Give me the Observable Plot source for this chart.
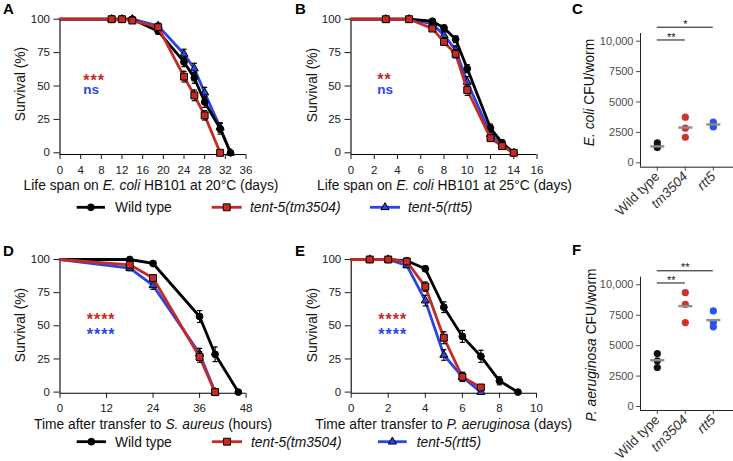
<!DOCTYPE html>
<html><head><meta charset="utf-8">
<script src="https://cdn.jsdelivr.net/npm/d3@7"></script>
<script src="https://cdn.jsdelivr.net/npm/@observablehq/plot@0.6"></script>
<style>
html,body{margin:0;padding:0;background:#fff;}
#chart{position:relative;width:733px;height:461px;overflow:hidden;font-family:"Liberation Sans",Arial,sans-serif;}
#chart svg{position:absolute;left:0;top:0;}
</style></head><body><div id="chart"></div>
<script>
// ---------- DATA ----------
// Panel A: life span on E. coli HB101 at 20°C (days)
const aWtDays = [0,10,12,14,19,24,26,28,31,33];
const aWtSurv = [100,100,100,100,91,68,56,38,18,0];
const aWtErr  = [0,0,0,0,2,3.5,4,4,4,0];
const aTmDays = [0,10,12,14,19,24,26,28,31];
const aTmSurv = [100,100,100,99,94,57,43,28,0];
const aTmErr  = [0,0.5,0.5,1,2,4,4,3.5,0];
const aRtDays = [0,10,12,14,19,24,26,28,31,33];
const aRtSurv = [100,100,100,100,95,74,63,45,19,0];
const aRtErr  = [0,0,0,0,2,3.5,4,4,3.5,0];
const aTicks  = [0,4,8,12,16,20,24,28,32,36];

// Panel B: life span on E. coli HB101 at 25°C (days)
const bDays   = [0,3,5,7,8,9,10,12,13,14];
const bWtSurv = [100,100,100,98.5,93.5,85,63,18.5,7.5,0];
const bWtErr  = [0,0,0,1,2,2.5,3,3,2,0];
const bTmSurv = [100,100,100,93,83,74,47,11,5,0];
const bTmErr  = [0,0,0,1.5,2.5,3,4,2.5,1.5,0];
const bRtSurv = [100,100,100,96.5,88,77,53,14,5.5,0];
const bRtErr  = [0,0,0,1,2.5,3,4,3,1.5,0];
const bTicks  = [0,2,4,6,8,10,12,14,16];

// Panel D: time after transfer to S. aureus (hours)
const dWtHours  = [0,18,24,36,40,46];
const dWtSurv   = [100,100,97,57,28.5,0];
const dWtErr    = [0,1,1,4.5,5.5,0];
const dMutHours = [0,18,24,36,40];
const dTmSurv   = [100,96,86,26.5,0];
const dTmErr    = [0,1.5,2.5,4,0];
const dRtSurv   = [100,93.5,80.5,29,0];
const dRtErr    = [0,2,3,4,0];
const dTicks    = [0,12,24,36,48];

// Panel E: time after transfer to P. aeruginosa (days)
const eWtDays  = [0,1,2,3,4,5,6,7,8,9];
const eWtSurv  = [100,100,100,99,93,64,42,27,8.5,0];
const eWtErr   = [0,0,0,1,2,4,4.5,4.5,3,0];
const eMutDays = [0,1,2,3,4,5,6,7];
const eTmSurv  = [100,100,100,98.5,79.5,41,11.5,3.5];
const eTmErr   = [0,0,0,1,3.5,4.5,3.5,2];
const eRtSurv  = [100,100,100,95.5,69,28,11.5,0];
const eRtErr   = [0,0,0,1.5,4,4,3,0];
const eTicks   = [0,2,4,6,8,10];

const survTicks = [0,25,50,75,100];

// Panels C and F: CFU per worm
const strains   = ["Wild type","tm3504","rtt5"];
const cfuTicks  = [0,2500,5000,7500,10000];
const cWt = [1250,1350,1650];
const cTm = [2100,2850,3750];
const cRt = [2950,3000,3350];
const cCenter = [1350,2900,3150];
const cBracketFrom  = [0,0];
const cBracketTo    = [1,2];
const cBracketLevel = [10100,11150];
const cBracketLabel = ["**","*"];

const fWt = [3200,3750,4350];
const fTm = [6900,8400,9350];
const fRt = [6550,6900,7850];
const fCenter = [3800,8250,7100];
const fBracketFrom  = [0,0];
const fBracketTo    = [1,2];
const fBracketLevel = [10150,11150];
const fBracketLabel = ["**","**"];

// significance labels (tm3504 vs WT, rtt5 vs WT)
const sigA = ["***","ns"];
const sigB = ["**","ns"];
const sigD = ["****","****"];
const sigE = ["****","****"];

// ---------- STYLE ----------
const WT = "#000000", TM = "#c62a22", RT = "#2a44e6";
const CWT = "#111111", CTM = "#d1302c", CRT = "#2d50f0";
const FONT = "'Liberation Sans', Arial, Helvetica, sans-serif";

const capSymbol = {draw(ctx, size){ const w = Math.sqrt(size/Math.PI); ctx.moveTo(-w,0); ctx.lineTo(w,0); }};

const chart = document.getElementById("chart");

function rows(t, s, e){ return t.map((d,i)=>({t:d, s:s[i], e:e[i]})); }

function seriesMarks(data, color, symbol, r){
  const eb = data.filter(d=>d.e>0);
  return [
    Plot.line(data, {x:"t", y:"s", stroke:color, strokeWidth:2.8, strokeLinejoin:"round"}),
    Plot.ruleX(eb, {x:"t", y1:d=>d.s-d.e, y2:d=>d.s+d.e, stroke:"#000", strokeWidth:1.2}),
    Plot.dot(eb, {x:"t", y:d=>d.s-d.e, symbol:capSymbol, r:2.6, fill:"none", stroke:"#000", strokeWidth:1.2}),
    Plot.dot(eb, {x:"t", y:d=>d.s+d.e, symbol:capSymbol, r:2.6, fill:"none", stroke:"#000", strokeWidth:1.2}),
    Plot.dot(data.filter(d=>d.t>0), {x:"t", y:"s", symbol, r, fill:color, stroke:"#000", strokeWidth:1})
  ];
}

function svgStyle(color, size){
  return `background:transparent;font-family:${FONT};font-size:${size}px;color:${color};position:absolute;left:0;top:0;overflow:visible;`;
}

function survivalPanel(cfg){
  const svg = Plot.plot({
    width:733, height:461,
    marginLeft:cfg.left, marginRight:733-cfg.right, marginTop:cfg.top, marginBottom:461-cfg.bottom,
    x:{domain:cfg.xDomain}, y:{domain:[cfg.yMin,100]},
    style: svgStyle("#1a1a1a", 11.5),
    marks:[
      Plot.ruleX([cfg.xDomain[0]], {stroke:"#000", strokeWidth:1.1}),
      Plot.ruleY([cfg.yMin], {stroke:"#000", strokeWidth:1.1}),
      Plot.axisY({ticks:survTicks, tickSize:6, tickPadding:4, label:null}),
      Plot.axisX({ticks:cfg.xTicks, tickSize:5, tickPadding:6, label:null}),
      ...seriesMarks(cfg.rt, RT, "triangle", 3),
      ...seriesMarks(cfg.wt, WT, "circle", 3.4),
      ...seriesMarks(cfg.tm, TM, "square", 3.9)
    ]
  });
  chart.appendChild(svg);
}

function cfuPanel(cfg){
  const groups = [cfg.wt, cfg.tm, cfg.rt];
  const cols = [CWT, CTM, CRT];
  const brackets = cfg.from.map((f,i)=>({from:f, to:cfg.to[i], y:cfg.level[i], label:cfg.label[i]}));
  const centers = cfg.center.map((v,i)=>({i, v}));
  const svg = Plot.plot({
    width:733, height:461,
    marginLeft:cfg.left, marginRight:0, marginTop:cfg.top, marginBottom:461-cfg.bottom,
    x:{domain:[-0.6,2.72]}, y:{domain:cfg.yDomain},
    style: svgStyle("#4d4d4d", 11),
    marks:[
      Plot.ruleX([-0.6], {stroke:"#222", strokeWidth:1}),
      Plot.ruleY([cfg.yDomain[0]], {stroke:"#222", strokeWidth:1}),
      Plot.axisY({ticks:cfuTicks, tickFormat:d=>d===10000?"10,000":String(d), tickSize:4, tickPadding:3, label:null}),
      Plot.axisX({ticks:[0,1,2], tickFormat:i=>strains[i], tickRotate:-45, tickSize:4, tickPadding:3, label:null}),
      Plot.ruleY(brackets, {x1:"from", x2:"to", y:"y", stroke:"#111", strokeWidth:1}),
      Plot.text(brackets, {x:d=>(d.from+d.to)/2, y:"y", text:"label", dy:-3, fill:"#111", fontSize:11}),
      ...groups.map((g,i)=>Plot.dot(g.map(v=>({i, v})), {x:"i", y:"v", r:3.6, fill:cols[i]})),
      Plot.dot(centers, {x:"i", y:"v", symbol:capSymbol, r:7, fill:"none", stroke:"#8c8c8c", strokeWidth:2.4})
    ]
  });
  d3.select(svg).selectAll("g[aria-label='x-axis tick label'] text")
    .style("font-size","13.5px").style("fill","#333")
    .style("font-style", function(){ return this.textContent==="Wild type" ? null : "italic"; });
  chart.appendChild(svg);
}

// ---------- PANELS ----------
survivalPanel({left:59.5, right:245.5, top:18.7, bottom:154, yMin:-1.27, xDomain:[0,36], xTicks:aTicks,
  wt:rows(aWtDays,aWtSurv,aWtErr), tm:rows(aTmDays,aTmSurv,aTmErr), rt:rows(aRtDays,aRtSurv,aRtErr)});
survivalPanel({left:350.5, right:536.5, top:18.7, bottom:154, yMin:-1.27, xDomain:[0,16], xTicks:bTicks,
  wt:rows(bDays,bWtSurv,bWtErr), tm:rows(bDays,bTmSurv,bTmErr), rt:rows(bDays,bRtSurv,bRtErr)});
survivalPanel({left:59.5, right:245.6, top:259, bottom:392.8, yMin:-0.9, xDomain:[0,48], xTicks:dTicks,
  wt:rows(dWtHours,dWtSurv,dWtErr), tm:rows(dMutHours,dTmSurv,dTmErr), rt:rows(dMutHours,dRtSurv,dRtErr)});
survivalPanel({left:350.7, right:536, top:259, bottom:392.8, yMin:-0.9, xDomain:[0,10], xTicks:eTicks,
  wt:rows(eWtDays,eWtSurv,eWtErr), tm:rows(eMutDays,eTmSurv,eTmErr), rt:rows(eMutDays,eRtSurv,eRtErr)});

cfuPanel({left:640, top:33, bottom:166.7, yDomain:[-362,10633], wt:cWt, tm:cTm, rt:cRt, center:cCenter,
  from:cBracketFrom, to:cBracketTo, level:cBracketLevel, label:cBracketLabel});
cfuPanel({left:640, top:276.7, bottom:410, yDomain:[-329,10625], wt:fWt, tm:fTm, rt:fRt, center:fCenter,
  from:fBracketFrom, to:fBracketTo, level:fBracketLevel, label:fBracketLabel});

// ---------- TEXT OVERLAY ----------
const ov = d3.select(chart).append("svg").attr("width",733).attr("height",461)
  .style("position","absolute").style("left","0").style("top","0").style("font-family",FONT);

function txt(x, y, parts, o={}){
  const t = ov.append("text").attr("x",x).attr("y",y)
    .attr("font-size", o.size||13.8).attr("fill", o.fill||"#111")
    .attr("text-anchor", o.anchor||"start");
  if (o.weight) t.attr("font-weight", o.weight);
  if (o.rotate) t.attr("x",null).attr("y",null).attr("transform",`translate(${x},${y}) rotate(${o.rotate})`);
  parts.forEach(p=>{ const s = t.append("tspan").text(p[0]); if (p[1]) s.attr("font-style","italic"); });
  return t;
}

// two-line significance block, as a single text element
const sigRed = "#c62a22", sigBlue = "#2b48e6";
function sig(x, y, labels, gap){
  const t = ov.append("text").attr("x",x).attr("y",y).attr("font-weight","bold");
  labels.forEach((l,i)=>{
    const isStars = /^\*+$/.test(l);
    const s = t.append("tspan").attr("x",x).text(l)
      .attr("fill", i===0 ? sigRed : sigBlue)
      .attr("font-size", isStars ? 16 : 13.5);
    if (isStars) s.attr("letter-spacing",1);
    if (i>0) s.attr("dy", gap);
  });
}
sig(83.3, 86.3, sigA, 7.9);
sig(377.3, 85.3, sigB, 8.9);
sig(86.7, 325.3, sigD, 15);
sig(378.3, 325.3, sigE, 15);

// panel letters
[["A",3,14],["B",295,14],["C",572,14],["D",3,255.7],["E",295,255.7],["F",572,254.5]]
  .forEach(([l,x,y])=>txt(x,y,[[l]],{size:15,weight:"bold",fill:"#000"}));

// x-axis titles
txt(151,189.5,[["Life span on "],["E. coli",1],[" HB101 at 20°C (days)"]],{anchor:"middle"});
txt(444.5,189.5,[["Life span on "],["E. coli",1],[" HB101 at 25°C (days)"]],{anchor:"middle"});
txt(153,428.5,[["Time after transfer to "],["S. aureus",1],[" (hours)"]],{anchor:"middle"});
txt(443.7,428.5,[["Time after transfer to "],["P. aeruginosa",1],[" (days)"]],{anchor:"middle"});

// y-axis titles
txt(24.5,84,[["Survival (%)"]],{anchor:"middle",rotate:-90});
txt(316.5,85,[["Survival (%)"]],{anchor:"middle",rotate:-90});
txt(24.5,325,[["Survival (%)"]],{anchor:"middle",rotate:-90});
txt(316.5,325,[["Survival (%)"]],{anchor:"middle",rotate:-90});
txt(593.5,92.5,[["E. coli",1],[" CFU/worm"]],{anchor:"middle",rotate:-90});
txt(596,345,[["P. aeruginosa",1],[" CFU/worm"]],{anchor:"middle",rotate:-90});

// legends
function legendItem(x1, x2, y, color, sym, r, tx, label, italic){
  ov.append("line").attr("x1",x1).attr("x2",x2).attr("y1",y).attr("y2",y)
    .attr("stroke",color).attr("stroke-width",2.8);
  ov.append("path").attr("d", d3.symbol(sym, Math.PI*r*r)())
    .attr("transform",`translate(${(x1+x2)/2},${y})`)
    .attr("fill",color).attr("stroke","#000").attr("stroke-width",1);
  txt(tx, y+4.8, [[label, italic]], {size:13.8, fill:"#111"});
}
[[207.3,[76.7,105,115],[211.7,241.7,250],[370,400,408]],
 [441.7,[76.7,106,115],[212,242,251],[378,406.7,416.7]]].forEach(([y,a,b,c])=>{
  legendItem(a[0],a[1],y,WT,d3.symbolCircle,3.4,a[2],"Wild type",false);
  legendItem(b[0],b[1],y,TM,d3.symbolSquare,3.9,b[2],"tent-5(tm3504)",true);
  legendItem(c[0],c[1],y,RT,d3.symbolTriangle,3,c[2],"tent-5(rtt5)",true);
});
</script></body></html>
